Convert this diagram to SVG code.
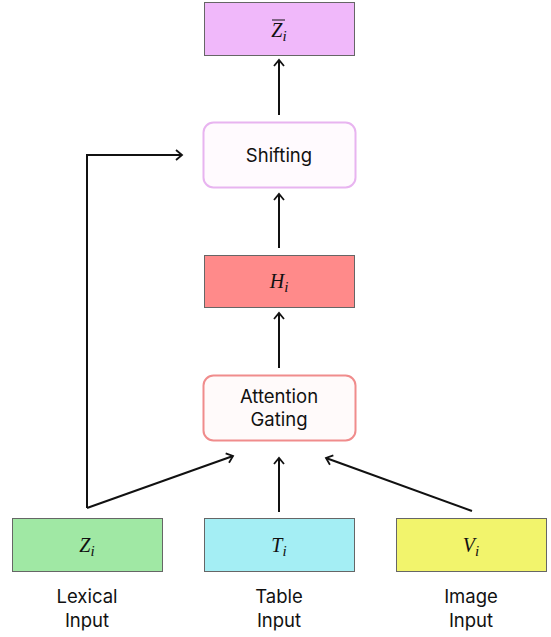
<svg xmlns="http://www.w3.org/2000/svg" width="551" height="637" viewBox="0 0 551 637">
<style>
.rect{stroke:#666;stroke-width:1}
.lbl{font-family:Inter,"Liberation Sans",sans-serif;font-size:18.5px;fill:#111;text-anchor:middle}
.math{font-family:"Liberation Serif","DejaVu Serif",serif;font-style:italic;font-size:20px;fill:#111;text-anchor:middle}
.sub{font-size:15px}
.conn{fill:none;stroke:#111;stroke-width:2}
</style>
<defs>
<marker id="arr" markerWidth="12" markerHeight="12" refX="9" refY="6" orient="auto" markerUnits="userSpaceOnUse">
<path d="M3,1 L9,6 L3,11" fill="none" stroke="#111" stroke-width="1.8"/>
</marker>
</defs>
<rect width="551" height="637" fill="#fff"/>
<g id="connectors">
<line class="conn" x1="279" y1="115" x2="279" y2="60" marker-end="url(#arr)"/>
<line class="conn" x1="279" y1="248" x2="279" y2="194" marker-end="url(#arr)"/>
<line class="conn" x1="279" y1="368" x2="279" y2="313" marker-end="url(#arr)"/>
<line class="conn" x1="279" y1="512" x2="279" y2="458" marker-end="url(#arr)"/>
<polyline class="conn" points="87,508 87,155 182,155" marker-end="url(#arr)"/>
<line class="conn" x1="87" y1="508" x2="233" y2="456" marker-end="url(#arr)"/>
<line class="conn" x1="472" y1="511" x2="326" y2="458" marker-end="url(#arr)"/>
</g>
<g id="zbar">
<rect class="rect" x="204.5" y="2.5" width="150" height="53" fill="#f0b8fa"/>
<text class="math" x="279" y="37">Z<tspan class="sub" dy="4">i</tspan></text>
<line x1="272" y1="20" x2="285" y2="20" stroke="#111" stroke-width="1"/>
</g>
<g id="shifting">
<rect x="203.5" y="122.5" width="152" height="65" rx="10" fill="#fffafe" stroke="#e8b4f0" stroke-width="2"/>
<text class="lbl" x="279" y="162">Shifting</text>
</g>
<g id="h">
<rect class="rect" x="204.5" y="255.5" width="150" height="52" fill="#ff8a8a"/>
<text class="math" x="279" y="288">H<tspan class="sub" dy="4">i</tspan></text>
</g>
<g id="attention">
<rect x="203.5" y="375.5" width="152" height="65" rx="10" fill="#fffafa" stroke="#f08c8c" stroke-width="2"/>
<text class="lbl" x="279" y="403">Attention</text>
<text class="lbl" x="279" y="426">Gating</text>
</g>
<g id="z">
<rect class="rect" x="12.5" y="518.5" width="150" height="53" fill="#a0e8a4"/>
<text class="math" x="87" y="552">Z<tspan class="sub" dy="4">i</tspan></text>
<text class="lbl" x="87" y="603">Lexical</text>
<text class="lbl" x="87" y="627">Input</text>
</g>
<g id="t">
<rect class="rect" x="204.5" y="518.5" width="150" height="53" fill="#a4eef4"/>
<text class="math" x="279" y="552">T<tspan class="sub" dy="4">i</tspan></text>
<text class="lbl" x="279" y="603">Table</text>
<text class="lbl" x="279" y="627">Input</text>
</g>
<g id="v">
<rect class="rect" x="396.5" y="518.5" width="150" height="53" fill="#f2f46c"/>
<text class="math" x="471" y="552">V<tspan class="sub" dy="4">i</tspan></text>
<text class="lbl" x="471" y="603">Image</text>
<text class="lbl" x="471" y="627">Input</text>
</g>
</svg>
